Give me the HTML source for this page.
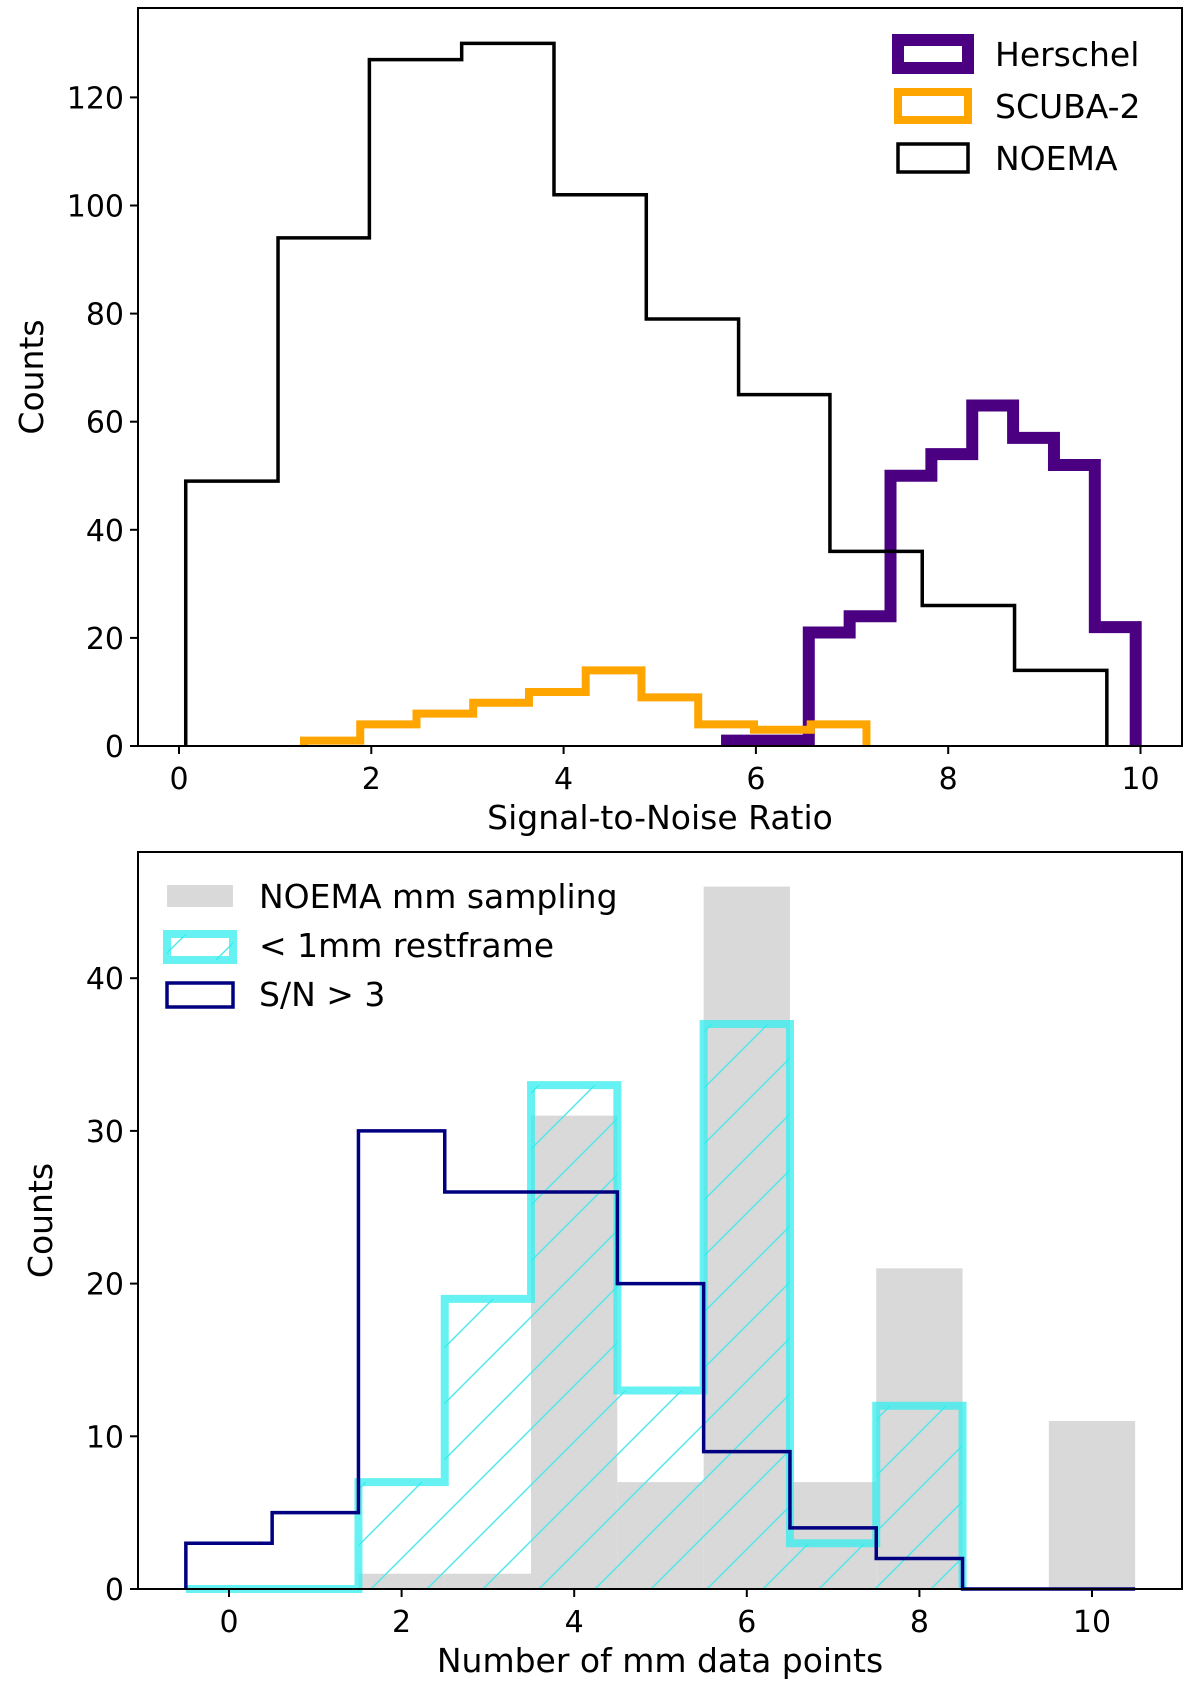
<!DOCTYPE html>
<html><head><meta charset="utf-8"><style>
body{margin:0;background:#fff}
svg{display:block;font-family:"DejaVu Sans","Liberation Sans",sans-serif}
</style></head><body>
<svg id="c" width="1200" height="1697" viewBox="0 0 1200 1697">
<defs>
<pattern id="hatch" patternUnits="userSpaceOnUse" width="56" height="56">
<line x1="0" y1="56" x2="56" y2="0" stroke="#4ee8ee" stroke-width="1.5"/>
<line x1="-4" y1="4" x2="4" y2="-4" stroke="#4ee8ee" stroke-width="1.5"/>
<line x1="52" y1="60" x2="60" y2="52" stroke="#4ee8ee" stroke-width="1.5"/>
</pattern>
<clipPath id="clipTop"><rect x="138" y="8" width="1044" height="738"/></clipPath>
</defs>
<g id="topPanel"></g>
<g id="botPanel"></g>
</svg>
<script>
// ---- Top panel data ----
const noemaEdges = [0.07,1.03,1.98,2.94,3.9,4.86,5.82,6.77,7.73,8.69,9.65];
const noemaCounts = [49,94,127,130,102,79,65,36,26,14];
const scubaEdges = [1.3,1.885,2.47,3.06,3.64,4.23,4.81,5.4,5.98,6.57,7.15];
const scubaCounts = [1,4,6,8,10,14,9,4,3,4];
const herschelEdges = [5.7,6.125,6.55,6.975,7.4,7.825,8.25,8.675,9.1,9.525,9.95];
const herschelCounts = [1,1,21,24,50,54,63,57,52,22];
const topXTicks = [0,2,4,6,8,10];
const topYTicks = [0,20,40,60,80,100,120];
// ---- Bottom panel data ----
const mmBins = [0,1,2,3,4,5,6,7,8,9,10];
const samplingCounts = [0,0,1,1,31,7,46,7,21,0,11];
const restCounts = [0,0,7,19,33,13,37,3,12];
const snrCounts = [3,5,30,26,26,20,9,4,2,0,0];
const botXTicks = [0,2,4,6,8,10];
const botYTicks = [0,10,20,30,40];

const NS='http://www.w3.org/2000/svg';
function mk(parent,tag,attrs,text){const e=document.createElementNS(NS,tag);for(const k in attrs)e.setAttribute(k,attrs[k]);if(text!==undefined)e.textContent=text;parent.appendChild(e);return e;}

const tx=v=>179+v*96.15, ty=v=>746-v*5.405;
const bx=v=>229+v*86.3, by=v=>1589-v*15.27;

function stepPath(edges,counts,X,Y){
  let d='M'+X(edges[0])+','+Y(0);
  for(let i=0;i<counts.length;i++){d+=' L'+X(edges[i])+','+Y(counts[i])+' L'+X(edges[i+1])+','+Y(counts[i]);}
  d+=' L'+X(edges[counts.length])+','+Y(0);
  return d;
}

const gTop=document.getElementById('topPanel');
let p=mk(gTop,'path',{d:stepPath(herschelEdges,herschelCounts,tx,ty),fill:'none',stroke:'#4b0082','stroke-width':12,'clip-path':'url(#clipTop)'});


p=mk(gTop,'path',{d:stepPath(scubaEdges,scubaCounts,tx,ty),fill:'none',stroke:'#ffa500','stroke-width':8,'clip-path':'url(#clipTop)'});


p=mk(gTop,'path',{d:stepPath(noemaEdges,noemaCounts,tx,ty),fill:'none',stroke:'#000','stroke-width':3.5,'clip-path':'url(#clipTop)'});



function axes(g,x0,y0,x1,y1,xt,yt,X,Y,xl,yl,xlY,ylX,tickLY){
  const f=mk(g,'rect',{x:x0,y:y0,width:x1-x0,height:y1-y0,fill:'none',stroke:'#000','stroke-width':2});
  
  
  xt.forEach(v=>{mk(g,'line',{x1:X(v),x2:X(v),y1:y1,y2:y1+8,stroke:'#000','stroke-width':2});
    const t=mk(g,'text',{x:X(v),y:tickLY,'text-anchor':'middle','font-size':30},String(v));
    
    });
  yt.forEach(v=>{mk(g,'line',{x1:x0-8,x2:x0,y1:Y(v),y2:Y(v),stroke:'#000','stroke-width':2});
    const t=mk(g,'text',{x:x0-14,y:Y(v)+11,'text-anchor':'end','font-size':30},String(v));
    
    });
  let t=mk(g,'text',{x:(x0+x1)/2,y:xlY,'text-anchor':'middle','font-size':33},xl);
  
  
  t=mk(g,'text',{x:ylX,y:(y0+y1)/2,'text-anchor':'middle','font-size':33,transform:'rotate(-90 '+ylX+' '+((y0+y1)/2)+')'},yl);
  
  
}
axes(gTop,138,8,1182,746,topXTicks,topYTicks,tx,ty,'Signal-to-Noise Ratio','Counts',829,43,789);

function legendEntry(g,yc,label,stroke,sw,px,pw,name){
  const le=mk(g,'g',{});
  
  
  mk(le,'rect',{x:px,y:yc-14,width:pw,height:28,fill:'none',stroke:stroke,'stroke-width':sw});
  mk(le,'text',{x:px+pw+27,y:yc+12,'font-size':33},label);
}
legendEntry(gTop,54,'Herschel','#4b0082',12,898,70,'legend-herschel');
legendEntry(gTop,106,'SCUBA-2','#ffa500',8,898,70,'legend-scuba2');
legendEntry(gTop,158,'NOEMA','#000',3.5,898,70,'legend-noema');

const gBot=document.getElementById('botPanel');
samplingCounts.forEach((c,i)=>{ if(c<=0) return;
  const r=mk(gBot,'rect',{x:bx(mmBins[i]-0.5),y:by(c),width:bx(1)-bx(0),height:by(0)-by(c),fill:'#d9d9d9'});
  
  
});
const restEdges=restCounts.map((c,i)=>mmBins[i]-0.5).concat([mmBins[restCounts.length-1]+0.5]);
const restPath=stepPath(restEdges,restCounts,bx,by);
p=mk(gBot,'path',{d:restPath+' Z',fill:'url(#hatch)',stroke:'none'});


p=mk(gBot,'path',{d:restPath,fill:'none',stroke:'#33eeee','stroke-opacity':0.75,'stroke-width':8});


const snrEdges=snrCounts.map((c,i)=>mmBins[i]-0.5).concat([mmBins[snrCounts.length-1]+0.5]);
p=mk(gBot,'path',{d:stepPath(snrEdges,snrCounts,bx,by),fill:'none',stroke:'#000080','stroke-width':3.5});


axes(gBot,138,852,1182,1589,botXTicks,botYTicks,bx,by,'Number of mm data points','Counts',1672,52,1632);

let le=mk(gBot,'g',{});


mk(le,'rect',{x:167,y:885,width:66,height:22,fill:'#d9d9d9'});
mk(le,'text',{x:259,y:908,'font-size':33},'NOEMA mm sampling');
le=mk(gBot,'g',{});


mk(le,'rect',{x:167,y:934,width:66,height:26,fill:'url(#hatch)',stroke:'#33eeee','stroke-opacity':0.75,'stroke-width':8});
mk(le,'text',{x:259,y:957,'font-size':33},'< 1mm restframe');
le=mk(gBot,'g',{});


mk(le,'rect',{x:167,y:983,width:66,height:24,fill:'none',stroke:'#000080','stroke-width':3.5});
mk(le,'text',{x:259,y:1006,'font-size':33},'S/N > 3');
</script>
</body></html>
